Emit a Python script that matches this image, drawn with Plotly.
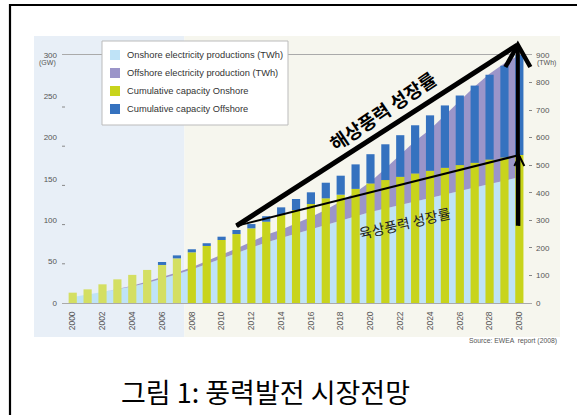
import plotly.graph_objects as go

# ---------------- data ----------------
years = list(range(2000, 2031))
onshore_gw = [12.5, 16.5, 22.6, 28.6, 34, 40, 46, 54, 61.3, 69, 76.2, 83.4, 90.3, 98.3, 106.4,
              112.5, 119.7, 126.6, 131, 138, 144.7, 148.7, 152.7, 156.8, 160, 163.6, 166.8,
              169.6, 173.6, 176, 179]
offshore_gw = [0, 0, 0, 0, 0, 0, 3.6, 3.6, 3.7, 3.3, 4.0, 4.9, 5.2, 6.7, 9.3, 13.3, 14.2, 18.9,
               23, 29.7, 35.3, 43.3, 50.3, 58.2, 67, 75.4, 84.2, 93.4, 102.4, 111, 121]
onshore_twh = [22, 30, 40, 50, 60, 73, 88, 104, 122, 142, 162, 182, 202, 220, 236, 252, 268,
               284, 300, 315, 330, 343, 356, 369, 382, 395, 408, 420, 432, 444, 456]
offshore_twh = [0, 0, 0, 1, 3, 5, 6, 7, 8, 10, 13, 16, 20, 28, 30, 36, 44, 54, 68, 87, 110,
                145, 182, 219, 248, 287, 326, 366, 400, 426, 444]
history_end = 2007  # years up to this are historical (lighter bars, blue background)

series_names = ["Onshore electricity productions (TWh)", "Offshore electricity production (TWh)",
                "Cumulative capacity Onshore", "Cumulative capacity Offshore"]
left_ticks = [0, 50, 100, 150, 200, 250, 300]
right_ticks = [0, 100, 200, 300, 400, 500, 600, 700, 800, 900]
x_ticks = list(range(2000, 2031, 2))

# ---------------- styling ----------------
C_LB = "#bfe3f7"
C_PU = "#9b95c9"
C_GR = "#c8d41c"
C_GR_L = "#d4df62"
C_BL = "#3572bf"
series_colors = [C_LB, C_PU, C_GR, C_BL]
FONT = "Liberation Sans"
GRAY = "#555555"

W, H = 577, 415
L, R, T, B = 62, 532, 55, 303
XR = [1999.28, 2030.85]


def xp(px):
    return (px - L) / (R - L)


def yp(py):
    return (B - py) / (B - T)


def xyear(year):
    return (year - XR[0]) / (XR[1] - XR[0])


fig = go.Figure()

# areas (right axis, TWh)
fig.add_trace(go.Scatter(x=years, y=onshore_twh, mode="lines", stackgroup="prod",
                         line=dict(width=0, color=C_LB), fillcolor=C_LB,
                         name=series_names[0], yaxis="y"))
fig.add_trace(go.Scatter(x=years, y=offshore_twh, mode="lines", stackgroup="prod",
                         line=dict(width=0, color=C_PU), fillcolor=C_PU,
                         name=series_names[1], yaxis="y"))

# bars (left axis, GW)
on_colors = [C_GR_L if y <= history_end else C_GR for y in years]
fig.add_trace(go.Bar(x=years, y=onshore_gw, marker=dict(color=on_colors, line=dict(width=0)),
                     width=0.55, name=series_names[2], yaxis="y2"))
fig.add_trace(go.Bar(x=years, y=offshore_gw, marker=dict(color=C_BL, line=dict(width=0)),
                     width=0.55, name=series_names[3], yaxis="y2"))

shapes = []
annotations = []
# backgrounds
split = L + xyear(history_end + 0.5) * (R - L)
shapes.append(dict(type="rect", xref="paper", yref="paper", x0=xp(34), x1=xp(split),
                   y0=yp(337), y1=yp(36), fillcolor="#e8eff7", line=dict(width=0), layer="below"))
shapes.append(dict(type="rect", xref="paper", yref="paper", x0=xp(split), x1=xp(560),
                   y0=yp(337), y1=yp(36), fillcolor="#f6f6ee", line=dict(width=0), layer="below"))
# document frame
shapes.append(dict(type="line", xref="paper", yref="paper", x0=xp(9), x1=xp(580),
                   y0=yp(5), y1=yp(5), line=dict(color="black", width=2.2)))
shapes.append(dict(type="line", xref="paper", yref="paper", x0=xp(10), x1=xp(10),
                   y0=yp(4), y1=yp(420), line=dict(color="black", width=2.2)))

# small left tick dashes (slightly below the labels, as in the source graphic)
for k in range(1, 6):
    ty = B - k * 39.2
    shapes.append(dict(type="line", xref="paper", yref="paper", x0=xp(62), x1=xp(65),
                       y0=yp(ty), y1=yp(ty), line=dict(color="#888888", width=1)))

# manual legend
shapes.append(dict(type="rect", xref="paper", yref="paper", x0=xp(102), x1=xp(288),
                   y0=yp(125), y1=yp(41), fillcolor="white",
                   line=dict(color="#bbbbbb", width=1)))
for i, (nm, col) in enumerate(zip(series_names, series_colors)):
    cy = [55, 73, 91, 109][i]
    shapes.append(dict(type="rect", xref="paper", yref="paper", x0=xp(110), x1=xp(120),
                       y0=yp(cy + 5), y1=yp(cy - 5), fillcolor=col, line=dict(width=0)))
    annotations.append(dict(text=nm, x=xp(125), y=yp(cy), xref="paper", yref="paper",
                            xanchor="left", yanchor="middle", showarrow=False,
                            font=dict(family=FONT, size=9.3, color="#333")))

# growth lines
x_start = xyear(2011)
x_end = xyear(2030)
y_start = (offshore_gw[11] + onshore_gw[11] + 5) / 300
y_off_end = yp(45)
y_on_end = onshore_gw[-1] / 300
px_unit = 1 / (R - L)
py_unit = 1 / (B - T)
# offshore (thick)
shapes.append(dict(type="line", xref="paper", yref="paper", x0=x_start, y0=y_start,
                   x1=x_end - 2 * px_unit, y1=y_off_end, line=dict(color="black", width=5)))
shapes.append(dict(type="line", xref="paper", yref="paper", x0=x_end - 1.5 * px_unit, y0=y_start,
                   x1=x_end - 1.5 * px_unit, y1=y_off_end, line=dict(color="black", width=4)))
shapes.append(dict(type="path", xref="paper", yref="paper",
                   path=f"M{x_end - 14 * px_unit},{y_off_end - 22 * py_unit} "
                        f"L{x_end - 1.5 * px_unit},{y_off_end} "
                        f"L{x_end + 11 * px_unit},{y_off_end - 22 * py_unit}",
                   line=dict(color="black", width=4.5)))
# onshore (thin)
shapes.append(dict(type="line", xref="paper", yref="paper", x0=x_start, y0=y_start,
                   x1=x_end, y1=y_on_end, line=dict(color="black", width=2)))
shapes.append(dict(type="line", xref="paper", yref="paper", x0=x_end, y0=y_start,
                   x1=x_end, y1=y_on_end - 1 * py_unit, line=dict(color="black", width=2)))
shapes.append(dict(type="path", xref="paper", yref="paper",
                   path=f"M{x_end - 5 * px_unit},{y_on_end - 11 * py_unit} "
                        f"L{x_end},{y_on_end - 1 * py_unit} "
                        f"L{x_end + 5 * px_unit},{y_on_end - 11 * py_unit}",
                   line=dict(color="black", width=2)))

annotations += [
    dict(text="해상풍력 성장률", x=xp(382), y=yp(111), xref="paper", yref="paper",
         xanchor="center", yanchor="middle", showarrow=False, textangle=-34,
         font=dict(family="Noto Sans CJK KR", size=18.5, color="black", weight="bold")),
    dict(text="육상풍력 성장률", x=xp(404), y=yp(223), xref="paper", yref="paper",
         xanchor="center", yanchor="middle", showarrow=False, textangle=-13,
         font=dict(family="Noto Sans CJK KR", size=14, color="#222")),
    dict(text="(GW)", x=xp(58), y=yp(63), xref="paper", yref="paper", xanchor="right",
         yanchor="middle", showarrow=False, font=dict(family=FONT, size=7, color=GRAY)),
    dict(text="(TWh)", x=xp(535), y=yp(63), xref="paper", yref="paper", xanchor="left",
         yanchor="middle", showarrow=False, font=dict(family=FONT, size=7, color=GRAY)),
    dict(text="Source: EWEA  report (2008)", x=xp(559), y=yp(341), xref="paper", yref="paper",
         xanchor="right", yanchor="middle", showarrow=False,
         font=dict(family=FONT, size=6.8, color=GRAY)),
    dict(text="그림 1: 풍력발전 시장전망", x=xp(265), y=yp(391), xref="paper", yref="paper",
         xanchor="center", yanchor="middle", showarrow=False,
         font=dict(family="Noto Sans CJK KR", size=27, color="black")),
]

fig.update_layout(
    width=W, height=H,
    margin=dict(l=L, r=W - R, t=T, b=H - B, pad=0),
    paper_bgcolor="white", plot_bgcolor="rgba(0,0,0,0)",
    barmode="relative", bargap=0.45,
    showlegend=False,
    xaxis=dict(range=XR, tickvals=x_ticks, ticktext=[str(v) for v in x_ticks], tickangle=-90,
               showgrid=False, zeroline=False, showline=True, mirror=True, linecolor="#aaaaaa",
               linewidth=1, ticks="", ticklabelstandoff=4,
               tickfont=dict(family=FONT, size=8.5, color=GRAY)),
    yaxis=dict(range=[0, 900], side="right", tickvals=right_ticks, showgrid=False,
               zeroline=False, showline=False, ticks="inside", ticklen=3, tickcolor="#888888",
               tickwidth=1, ticklabelstandoff=3,
               tickfont=dict(family=FONT, size=8, color=GRAY)),
    yaxis2=dict(range=[0, 300], side="left", overlaying="y", tickvals=left_ticks,
                showgrid=False, zeroline=False, showline=False, ticks="", ticklabelstandoff=4,
                tickfont=dict(family=FONT, size=8, color=GRAY)),
    shapes=shapes, annotations=annotations,
)

fig.write_html("out.html")
